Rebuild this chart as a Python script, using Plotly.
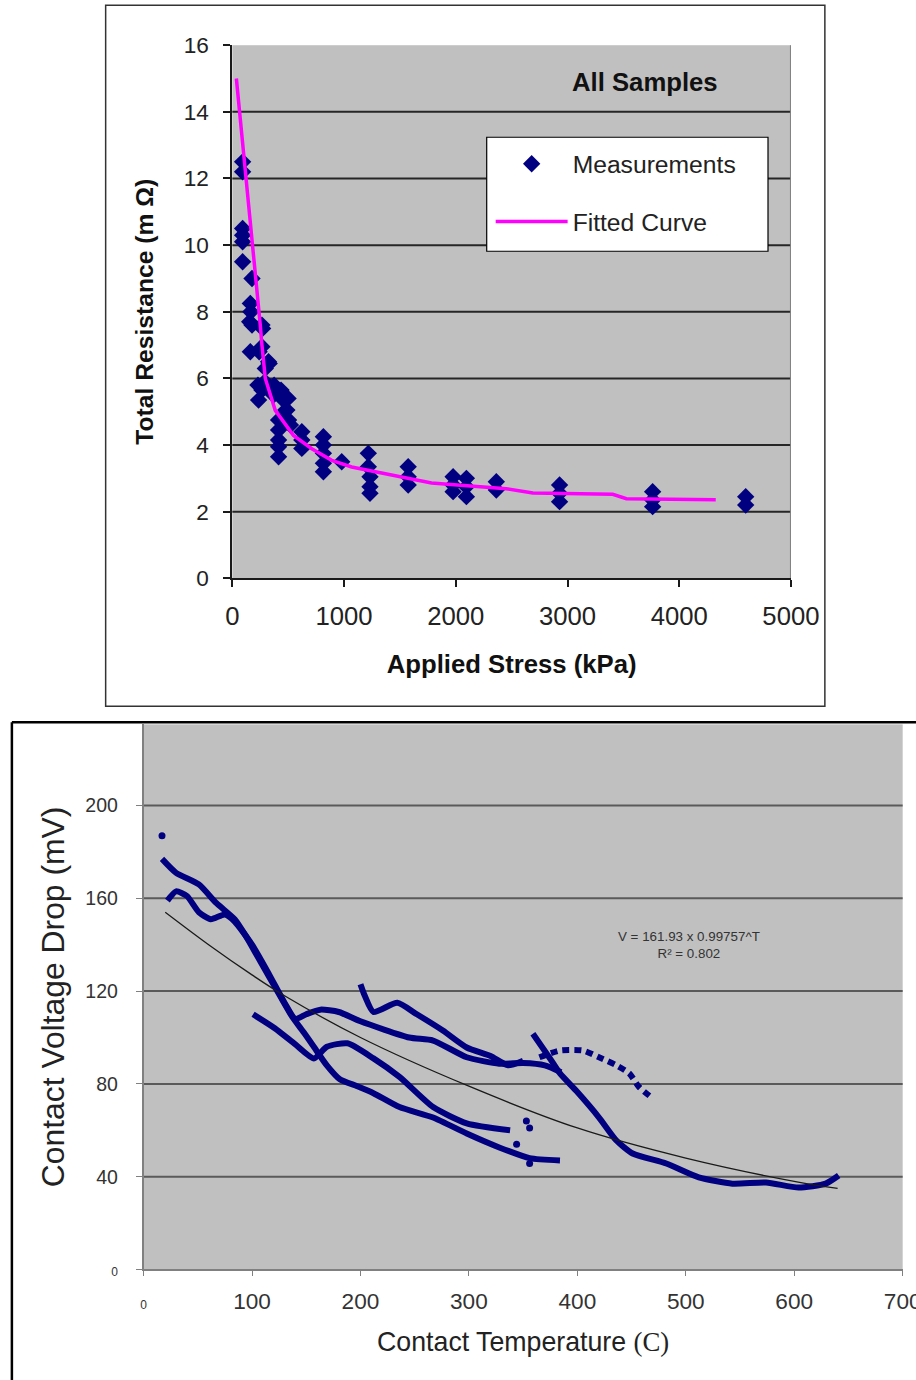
import plotly.graph_objects as go

# ---------------- Top chart data ----------------
stress_kpa = [92, 92, 92, 92, 92, 92, 176, 161, 165, 155, 271, 176, 265, 161, 265, 324, 295, 265, 235, 324,
              369, 429, 458, 488, 503, 414, 414, 414, 414, 414, 622, 622, 622, 815, 815, 815, 815, 815, 979,
              1217, 1217, 1232, 1232, 1232, 1574, 1574, 1574, 1976, 1976, 1976, 2095, 2095, 2095, 2363, 2363,
              2929, 2929, 2929, 3762, 3762, 3762, 4595, 4595, 229, 291, 374, 436, 499, 478, 457, 240, 330, 520]
resistance_mohm = [12.5, 12.2, 10.5, 10.3, 10.1, 9.5, 9.0, 8.25, 8.0, 7.7, 7.5, 7.6, 7.6, 6.8, 6.95, 6.5, 6.3,
                   5.65, 5.35, 5.75, 5.5, 5.6, 5.35, 5.05, 4.75, 4.75, 4.45, 4.15, 3.95, 3.65, 4.4, 4.15, 3.9,
                   4.25, 4.0, 3.75, 3.45, 3.2, 3.5, 3.75, 3.35, 3.05, 2.75, 2.55, 3.35, 3.05, 2.8, 3.05, 2.8,
                   2.6, 3.0, 2.75, 2.45, 2.9, 2.65, 2.8, 2.55, 2.3, 2.6, 2.35, 2.15, 2.45, 2.2, 5.8, 5.9, 5.8,
                   5.65, 5.4, 5.05, 4.7, 6.8, 6.45, 4.6]
fit_stress = [36, 65, 101, 131, 176, 220, 250, 265, 295, 384, 547, 711, 890, 1068, 1396, 1783, 2452, 2690,
              3405, 3527, 4327]
fit_resist = [15.0, 14.0, 12.9, 11.95, 10.15, 8.74, 7.6, 7.0, 6.0, 5.04, 4.29, 3.89, 3.54, 3.34, 3.12, 2.86,
              2.69, 2.56, 2.52, 2.39, 2.36]
top_yticks = [0, 2, 4, 6, 8, 10, 12, 14, 16]
top_xticks = [0, 1000, 2000, 3000, 4000, 5000]

# ---------------- Bottom chart data ----------------
trackA_T = [17, 30, 51, 67, 84, 94, 105, 116, 127, 137, 148, 157, 169, 181, 197, 212, 236, 267, 298, 328, 356, 384]
trackA_V = [177, 171, 166, 158, 151, 144, 135, 126, 117, 109, 102, 96, 88, 82, 79, 76, 70, 65.5, 58.6, 52.6, 48, 47]
trackB_T = [22, 30, 40, 51, 62, 75, 84, 100, 116, 130, 140, 150, 163, 180, 200, 245, 267, 298, 328, 350, 370, 385]
trackB_V = [159, 163, 161, 154, 151, 153, 150, 140, 127, 115, 108, 110, 112, 111, 107, 100, 98.7, 91.5, 88.7, 89, 88, 85]
trackC_T = [101, 121, 140, 157, 169, 188, 212, 236, 267, 298, 338]
trackC_V = [110, 104, 97, 91, 96, 97.5, 91, 83, 70, 63, 60]
trackD_T = [200, 204, 212, 234, 252, 276, 298, 320, 336, 350]
trackD_V = [123, 118, 111, 115, 110, 103, 95.7, 92, 88, 90]
trackE_T = [359, 374, 384, 399, 420, 436, 451, 482, 512, 543, 574, 604, 629, 641]
trackE_V = [101.6, 91.5, 84.5, 77, 65.5, 55.6, 50, 45.7, 39.7, 37, 37.5, 35.3, 37, 40.5]
trackF_T = [365, 384, 405, 420, 436, 448, 457, 470]
trackF_V = [91.5, 94.4, 94.4, 91.5, 88, 84.5, 78.6, 73.6]
dots_T = [17, 353, 356, 344, 356]
dots_V = [187, 64, 61, 54, 45.7]
trend_T = [20, 60, 100, 130, 200, 300, 400, 500, 600, 640]
trend_V = [154, 140, 127, 118, 100, 79, 61, 48, 38, 35]
bot_yticks = [0, 40, 80, 120, 160, 200]
bot_xticks = [0, 100, 200, 300, 400, 500, 600, 700]

# canvas geometry (compensating for the capture scaling observed)
W, H = 950, 1405
SX, OX = 0.9645, 6.1
SY, OY = 0.982, 11.8
def px(x):
    return ((x - OX) / SX) / W
def py(y):
    return 1 - ((y - OY) / SY) / H
def s(v):
    return v / 0.973

NAVY = "#000080"
ARIAL = "Liberation Sans, Arial, sans-serif"
NARROW = "Liberation Sans Narrow, Arial Narrow, Liberation Sans, Arial, sans-serif"

fig = go.Figure()

# top chart traces
fig.add_trace(go.Scatter(x=stress_kpa, y=resistance_mohm, mode="markers", name="Measurements",
                         marker=dict(symbol="diamond", size=s(13), color=NAVY, line=dict(width=0)),
                         xaxis="x", yaxis="y", legendgroup="m"))
fig.add_trace(go.Scatter(x=fit_stress, y=fit_resist, mode="lines", name="Fitted Curve",
                         line=dict(color="#FF00FF", width=3.5), xaxis="x", yaxis="y", legendgroup="f"))

# bottom chart traces
for tT, tV in [(trackA_T, trackA_V), (trackB_T, trackB_V), (trackC_T, trackC_V),
               (trackD_T, trackD_V), (trackE_T, trackE_V)]:
    fig.add_trace(go.Scatter(x=tT, y=tV, mode="lines", showlegend=False,
                             line=dict(color=NAVY, width=6, shape="spline", smoothing=0.6),
                             xaxis="x2", yaxis="y2"))
fig.add_trace(go.Scatter(x=trackF_T, y=trackF_V, mode="lines", showlegend=False,
                         line=dict(color=NAVY, width=6, dash="7px,5px", shape="spline", smoothing=0.6),
                         xaxis="x2", yaxis="y2"))
fig.add_trace(go.Scatter(x=dots_T, y=dots_V, mode="markers", showlegend=False,
                         marker=dict(color=NAVY, size=7), xaxis="x2", yaxis="y2"))
fig.add_trace(go.Scatter(x=trend_T, y=trend_V, mode="lines", showlegend=False,
                         line=dict(color="#1a1a1a", width=1.3, shape="spline"), xaxis="x2", yaxis="y2"))

shapes = []
shapes.append(dict(type="rect", xref="paper", yref="paper", x0=px(105), x1=px(826), y0=py(706), y1=py(5),
                   line=dict(color="#333333", width=1.5), fillcolor="rgba(0,0,0,0)", layer="below"))
shapes.append(dict(type="line", xref="paper", yref="paper", x0=px(11), x1=px(11), y0=py(1382), y1=py(722),
                   line=dict(color="#000000", width=2.5), layer="below"))
shapes.append(dict(type="line", xref="paper", yref="paper", x0=px(11), x1=px(918), y0=py(722), y1=py(722),
                   line=dict(color="#000000", width=2.5), layer="below"))
for v in top_yticks[1:-1]:
    shapes.append(dict(type="line", xref="x domain", yref="y", x0=0, x1=1, y0=v, y1=v,
                       line=dict(color="#262626", width=2), layer="below"))
shapes.append(dict(type="line", xref="x", yref="y domain", x0=top_xticks[-1], x1=top_xticks[-1], y0=0, y1=1,
                   line=dict(color="#7f7f7f", width=2), layer="below"))
for v in bot_yticks[1:]:
    shapes.append(dict(type="line", xref="x2 domain", yref="y2", x0=0, x1=1, y0=v, y1=v,
                       line=dict(color="#5a5a5a", width=2), layer="below"))
shapes.append(dict(type="rect", xref="paper", yref="paper", x0=px(487), x1=px(769), y0=py(251), y1=py(137),
                   line=dict(color="#000000", width=1.2), fillcolor="white", layer="above"))

bot_xtext = ["<span style='font-size:12px'>0</span>"] + [str(v) for v in bot_xticks[1:]]
bot_ytext = ["<span style='font-size:12px'>0</span>"] + [str(v) for v in bot_yticks[1:]]

fig.update_layout(
    width=W, height=H, margin=dict(l=0, r=0, t=0, b=0),
    paper_bgcolor="white", plot_bgcolor="#C0C0C0",
    showlegend=True,
    legend=dict(x=px(491), y=py(141), xanchor="left", yanchor="top", bgcolor="rgba(0,0,0,0)",
                borderwidth=0, font=dict(family=ARIAL, size=s(24), color="#222222"),
                tracegroupgap=s(22), itemwidth=s(70), traceorder="grouped"),
    shapes=shapes,
    xaxis=dict(domain=[px(232), px(792)], range=[0, 5000], tickvals=top_xticks, showgrid=False,
               zeroline=False, showline=True, linecolor="#1a1a1a", linewidth=2, ticks="outside",
               ticklen=7, tickcolor="#1a1a1a", tickwidth=1.5, ticklabelstandoff=7,
               tickfont=dict(family=ARIAL, size=s(25), color="#222222"),
               title=dict(text="<b>Applied Stress (kPa)</b>", standoff=s(25),
                          font=dict(family=ARIAL, size=s(25), color="#111111")),
               anchor="y"),
    yaxis=dict(domain=[py(578), py(45)], range=[0, 16], tickvals=top_yticks, showgrid=False,
               zeroline=False, showline=True, linecolor="#1a1a1a", linewidth=2, ticks="outside",
               ticklen=7, tickcolor="#1a1a1a", tickwidth=1.5, ticklabelstandoff=10,
               tickfont=dict(family=ARIAL, size=s(22), color="#222222"),
               title=dict(text="<b>Total Resistance (m Ω)</b>", standoff=s(22),
                          font=dict(family=ARIAL, size=s(24), color="#111111")),
               anchor="x"),
    xaxis2=dict(domain=[px(143), px(904)], range=[0, 700], tickvals=bot_xticks, ticktext=bot_xtext,
                showgrid=False, zeroline=False, showline=True, linecolor="#808080", linewidth=1.5,
                ticks="outside", ticklen=5, tickcolor="#808080", ticklabelstandoff=6,
                tickfont=dict(family=NARROW, size=s(22), color="#333333"),
                title=dict(text="Contact Temperature <span style='font-family:Liberation Serif'>(C)</span>",
                           standoff=s(18), font=dict(family=NARROW, size=s(26), color="#222222")),
                anchor="y2"),
    yaxis2=dict(domain=[py(1269), py(724)], range=[0, 235], tickvals=bot_yticks, ticktext=bot_ytext,
                showgrid=False, zeroline=False, showline=True, linecolor="#808080", linewidth=1.5,
                ticks="outside", ticklen=6, tickcolor="#808080", ticklabelstandoff=14,
                tickfont=dict(family=NARROW, size=s(19), color="#333333"),
                title=dict(text="Contact Voltage Drop (mV)", standoff=s(11),
                           font=dict(family=ARIAL, size=s(31), color="#222222")),
                anchor="x2"),
    annotations=[
        dict(xref="x", yref="y", x=3690, y=14.9, text="<b>All Samples</b>", showarrow=False,
             xanchor="center", yanchor="middle", font=dict(family=ARIAL, size=s(25), color="#111111")),
        dict(xref="x2", yref="y2", x=503, y=140, text="V = 161.93 x 0.99757^T<br>R² = 0.802",
             showarrow=False, xanchor="center", yanchor="middle",
             font=dict(family=NARROW, size=s(13), color="#333333")),
    ],
)

POST = (
    "document.documentElement.style.margin='0';"
    "document.body.style.margin='0';document.body.style.padding='0';"
)
fig.write_html("out.html", config={"displayModeBar": False}, post_script=POST)
